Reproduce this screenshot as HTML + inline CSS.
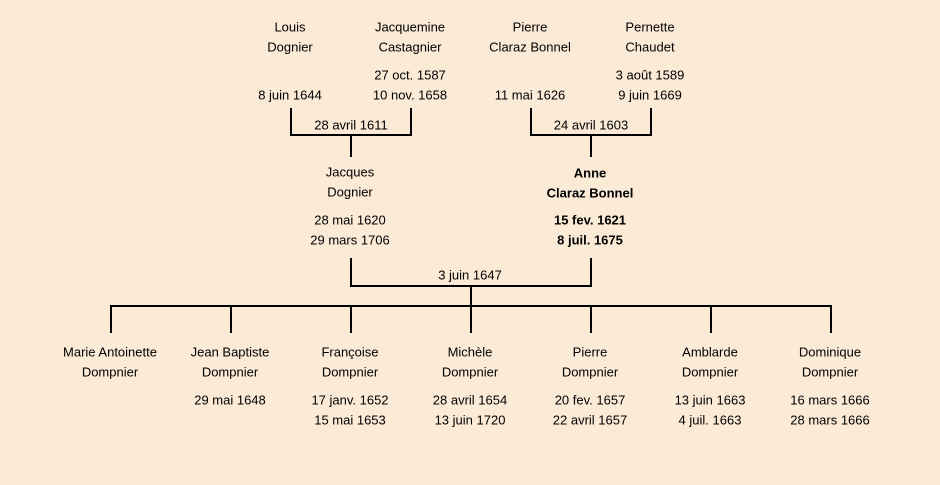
<!DOCTYPE html>
<html><head><meta charset="utf-8"><style>
html,body{margin:0;padding:0;background:#fbead6;}
svg{display:block}
text{font-family:"Liberation Sans",sans-serif;font-size:13px;fill:#000;text-anchor:middle;dominant-baseline:middle}
.b{font-weight:bold}
</style></head><body>
<svg width="940" height="485" viewBox="0 0 940 485">
<rect width="940" height="485" fill="#fbead6"/>
<g stroke="#000" stroke-width="2" fill="none">
<path d="M291 108V135H411V108M351 135V157"/>
<path d="M531 108V135H651V108M591 135V157"/>
<path d="M351 258V286H591V258M471 286V306"/>
<path d="M111 333V306H831V333M231 306V333M351 306V333M471 306V333M591 306V333M711 306V333"/>
</g>
<g transform="translate(0,1)">
<text x="290" y="27">Louis</text><text x="290" y="47">Dognier</text><text x="290" y="95">8 juin 1644</text>
<text x="410" y="27">Jacquemine</text><text x="410" y="47">Castagnier</text><text x="410" y="75">27 oct. 1587</text><text x="410" y="95">10 nov. 1658</text>
<text x="530" y="27">Pierre</text><text x="530" y="47">Claraz Bonnel</text><text x="530" y="95">11 mai 1626</text>
<text x="650" y="27">Pernette</text><text x="650" y="47">Chaudet</text><text x="650" y="75">3 août 1589</text><text x="650" y="95">9 juin 1669</text>
<text x="351" y="125">28 avril 1611</text>
<text x="591" y="125">24 avril 1603</text>
<text x="350" y="172">Jacques</text><text x="350" y="192">Dognier</text><text x="350" y="220">28 mai 1620</text><text x="350" y="240">29 mars 1706</text>
<text class="b" x="590" y="173">Anne</text><text class="b" x="590" y="193">Claraz Bonnel</text><text class="b" x="590" y="220">15 fev. 1621</text><text class="b" x="590" y="240">8 juil. 1675</text>
<text x="470" y="275">3 juin 1647</text>
<text x="110" y="352">Marie Antoinette</text><text x="110" y="372">Dompnier</text>
<text x="230" y="352">Jean Baptiste</text><text x="230" y="372">Dompnier</text><text x="230" y="400">29 mai 1648</text>
<text x="350" y="352">Françoise</text><text x="350" y="372">Dompnier</text><text x="350" y="400">17 janv. 1652</text><text x="350" y="420">15 mai 1653</text>
<text x="470" y="352">Michèle</text><text x="470" y="372">Dompnier</text><text x="470" y="400">28 avril 1654</text><text x="470" y="420">13 juin 1720</text>
<text x="590" y="352">Pierre</text><text x="590" y="372">Dompnier</text><text x="590" y="400">20 fev. 1657</text><text x="590" y="420">22 avril 1657</text>
<text x="710" y="352">Amblarde</text><text x="710" y="372">Dompnier</text><text x="710" y="400">13 juin 1663</text><text x="710" y="420">4 juil. 1663</text>
<text x="830" y="352">Dominique</text><text x="830" y="372">Dompnier</text><text x="830" y="400">16 mars 1666</text><text x="830" y="420">28 mars 1666</text>
</g>
</svg>
</body></html>
